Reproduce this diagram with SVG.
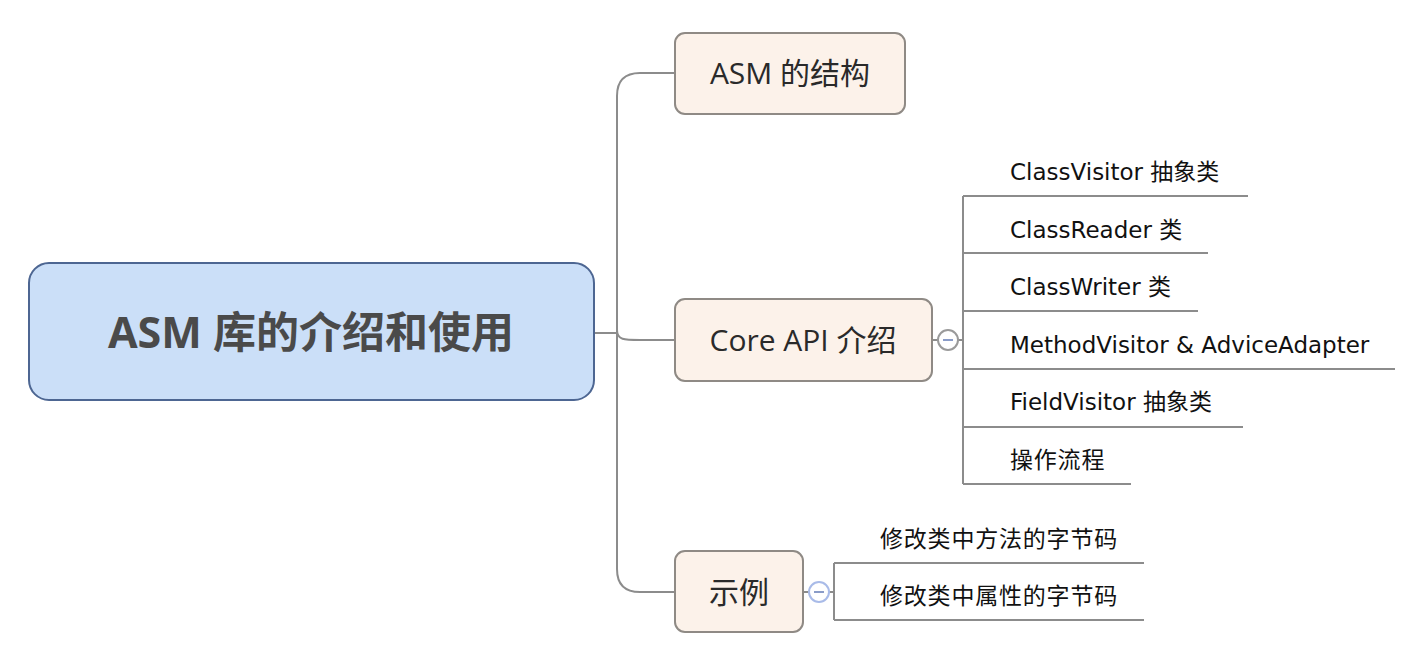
<svg xmlns="http://www.w3.org/2000/svg" width="1414" height="664" viewBox="0 0 1414 664">
<style>
.bg{fill:#ffffff}
.conn{fill:none;stroke:#8c8c8c;stroke-width:2}
.root{fill:#cbdff8;stroke:#4d6692;stroke-width:2}
.branch{fill:#fcf2ea;stroke:#8f8a85;stroke-width:2}
.t{font-family:"Open Sans","Noto Sans CJK SC",sans-serif}
.rt{font-size:43px;font-weight:bold;fill:#4a4a4a;text-anchor:middle}
.bt{font-size:30px;fill:#2a2a2a;text-anchor:middle}
.ct{font-family:"DejaVu Sans","Noto Sans CJK SC",sans-serif;font-size:23px;fill:#111111}
.cj{letter-spacing:0.8px}
.col{fill:#ffffff;stroke-width:2}
</style>
<rect class="bg" x="0" y="0" width="1414" height="664"/>
<g id="connectors">
<path class="conn" d="M594 333 H617"/>
<path class="conn" d="M617 96 Q617 73 640 73 H675"/>
<path class="conn" d="M617 96 V569 Q617 592 640 592 H675"/>
<path class="conn" d="M617 330 C617 340 624 340 640 340 H675"/>
<path class="conn" d="M932 340 H938 M958 340 H963"/>
<path class="conn" d="M963 196 V484"/>
<path class="conn" d="M963 196 H1248 M963 253 H1208 M963 311 H1198 M963 369 H1395 M963 427 H1243 M963 484 H1131"/>
<path class="conn" d="M803 592 H809 M829 592 H834"/>
<path class="conn" d="M834 563 V620 M834 563 H1144 M834 620 H1144"/>
</g>
<g id="root">
<rect class="root" x="29" y="263" width="565" height="137" rx="20"/>
<text class="t rt" x="311" y="348">ASM 库的介绍和使用</text>
</g>
<g id="n-structure">
<rect class="branch" x="675" y="33" width="230" height="81" rx="10"/>
<text class="t bt" x="790" y="84">ASM 的结构</text>
</g>
<g id="n-coreapi">
<rect class="branch" x="675" y="299" width="257" height="82" rx="10"/>
<text class="t bt" x="803" y="351">Core API 介绍</text>
<circle class="col" cx="948" cy="340" r="10" stroke="#9a9a9a"/>
<path d="M943 340 H953" stroke="#8a9cc8" stroke-width="2"/>
</g>
<g id="n-example">
<rect class="branch" x="675" y="551" width="128" height="81" rx="10"/>
<text class="t bt" x="739" y="603">示例</text>
<circle class="col" cx="819" cy="592" r="10" stroke="#a9bbe8"/>
<path d="M814 592 H824" stroke="#8a9cc8" stroke-width="2"/>
</g>
<g id="c1"><text class="ct" x="1010" y="180">ClassVisitor 抽象类</text></g>
<g id="c2"><text class="ct" x="1010" y="238">ClassReader 类</text></g>
<g id="c3"><text class="ct" x="1010" y="295">ClassWriter 类</text></g>
<g id="c4"><text class="ct" x="1010" y="353">MethodVisitor &amp; AdviceAdapter</text></g>
<g id="c5"><text class="ct" x="1010" y="410">FieldVisitor 抽象类</text></g>
<g id="c6"><text class="ct cj" x="1010" y="468">操作流程</text></g>
<g id="e1"><text class="ct cj" x="880" y="547">修改类中方法的字节码</text></g>
<g id="e2"><text class="ct cj" x="880" y="604">修改类中属性的字节码</text></g>
</svg>
